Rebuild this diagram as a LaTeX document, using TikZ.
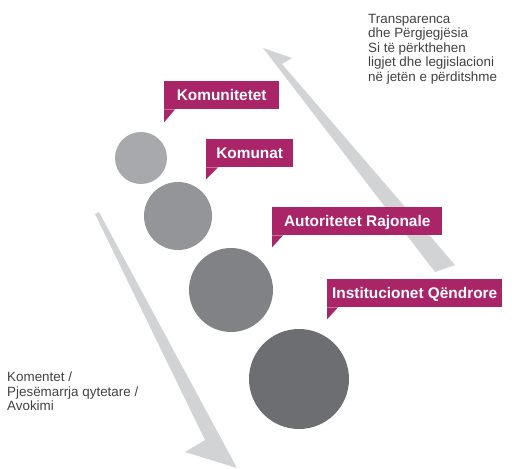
\documentclass[tikz,border=0pt]{standalone}
\usepackage{fontspec}
\setmainfont{Liberation Sans}
\definecolor{mag}{HTML}{AA2468}
\definecolor{arr}{HTML}{D1D3D4}
\definecolor{cA}{HTML}{A7A9AC}
\definecolor{cB}{HTML}{939598}
\definecolor{cC}{HTML}{808285}
\definecolor{cD}{HTML}{6D6E71}
\definecolor{txt}{HTML}{414042}
\tikzset{
  callout/.style={fill=mag, text=white, font=\bfseries\fontsize{15.4}{18}\selectfont,
    minimum height=28pt, inner sep=0pt, anchor=north west, text height=10.9pt, text depth=0pt},
  disc/.style={circle, inner sep=0pt},
  note/.style={text=txt, font=\fontsize{13.4}{14.5}\selectfont, align=left, inner sep=0pt, anchor=north west},
  tail/.style={fill=mag}
}
\begin{document}
\begin{tikzpicture}[x=1pt,y=-1pt]
\useasboundingbox (0,0) rectangle (512,469);
% arrows
\fill[arr] (263,48) -- (292,58) -- (282,64) -- (455,265) -- (435,272) -- cycle;
\fill[arr] (95,214) -- (99,212) -- (237,468) -- (185,452) -- (205,440) -- cycle;
% circles
\node[disc, fill=cA, minimum size=52pt] (c1) at (141,158) {};
\node[disc, fill=cB, minimum size=68pt] (c2) at (178,216) {};
\node[disc, fill=cC, minimum size=84pt] (c3) at (231,290) {};
\node[disc, fill=cD, minimum size=100pt] (c4) at (299,379) {};
% callouts
\node[callout, minimum width=115pt] (k1) at (164,81) {Komunitetet};
\fill[tail] (k1.south west) -- ++(11,0) -- ++(-11,13) -- cycle;
\node[callout, minimum width=87pt] (k2) at (206,139) {Komunat};
\fill[tail] (k2.south west) -- ++(12,0) -- ++(-12,12) -- cycle;
\node[callout, minimum width=170pt] (k3) at (272,207) {Autoritetet Rajonale};
\fill[tail] (k3.south west) -- ++(11,0) -- ++(-11,12) -- cycle;
\node[callout, minimum width=175pt] (k4) at (327,279) {Institucionet Qëndrore};
\fill[tail] (k4.south west) -- ++(11,0) -- ++(-11,12) -- cycle;
% notes
\node[note] (t1) at (368,14) {Transparenca\\dhe Përgjegjësia\\Si të përkthehen\\ligjet dhe legjislacioni\\në jetën e përditshme};
\node[note] (t2) at (7,372) {Komentet /\\Pjesëmarrja qytetare /\\Avokimi};
\end{tikzpicture}
\end{document}
